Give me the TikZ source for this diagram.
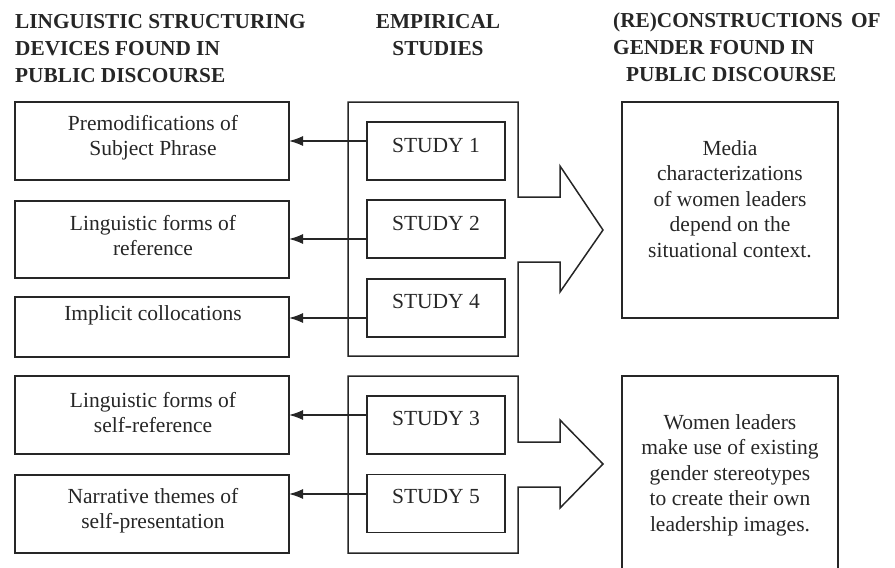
\documentclass[tikz,border=0pt]{standalone}
\usepackage{fontspec}
\setmainfont{Liberation Serif}
\usetikzlibrary{arrows.meta}
\begin{document}
\begin{tikzpicture}[x=1pt,y=-1pt,
  box/.style={draw=black!85, line width=1.4pt, inner sep=0pt, outer sep=0pt},
  lbox/.style={box, minimum width=274pt},
  sbox/.style={box, minimum width=138pt, minimum height=58pt},
  rbox/.style={box, minimum width=216pt},
  txt/.style={font=\fontsize{21.5}{25.5}\selectfont, align=center, inner sep=0pt, text=black!85},
  hdr/.style={font=\fontsize{21.3}{27}\selectfont\bfseries, inner sep=0pt, text=black!85},
  cont/.style={draw=black!85, line width=1.5pt, line join=miter},
  arr/.style={draw=black!85, line width=1.3pt, -{Latex[length=14pt,width=10pt]}}]
\useasboundingbox (0,0) rectangle (895,568);
% headers
\node[hdr, align=left, anchor=north west] (h1) at (15,14) {LINGUISTIC STRUCTURING\\DEVICES FOUND IN\\PUBLIC DISCOURSE};
\node[hdr, align=center, anchor=north] (h2) at (438,14) {EMPIRICAL\\STUDIES};
\node[hdr, align=left, anchor=north west] (h3) at (613,13) {(RE)CONSTRUCTIONS\hspace{3pt} OF\\GENDER FOUND IN\\\hspace*{13pt}PUBLIC DISCOURSE};
% containers with arrows
\draw[cont] (348,102) -- (518,102) -- (518,197) -- (560,197) -- (560,166) -- (603,230) -- (560,292) -- (560,262) -- (518,262) -- (518,356) -- (348,356) -- cycle;
\draw[cont] (348,376) -- (518,376) -- (518,442) -- (560,442) -- (560,420) -- (603,464) -- (560,508) -- (560,487) -- (518,487) -- (518,553) -- (348,553) -- cycle;
% left boxes
\node[lbox, minimum height=78pt] (l1) at (152,141) {};
\node[lbox, minimum height=77pt] (l2) at (152,239.5) {};
\node[lbox, minimum height=60pt] (l3) at (152,327) {};
\node[lbox, minimum height=78pt] (l4) at (152,415) {};
\node[lbox, minimum height=78pt] (l5) at (152,514) {};
\node[txt] (t1) at (153,137.5) {Premodifications of\\Subject Phrase};
\node[txt] (t2) at (153,235.5) {Linguistic forms of\\reference};
\node[txt] (t3) at (153,315) {Implicit collocations};
\node[txt] (t4) at (153,412.5) {Linguistic forms of\\self-reference};
\node[txt] (t5) at (153,510.5) {Narrative themes of\\self-presentation};
% study boxes
\node[sbox] (s1) at (436,151) {};
\node[sbox] (s2) at (436,229) {};
\node[sbox] (s4) at (436,308) {};
\node[sbox] (s3) at (436,425) {};
\node[sbox] (s5) at (436,503.5) {};
\node[txt, anchor=base] at (436,152) {STUDY 1};
\node[txt, anchor=base] at (436,230) {STUDY 2};
\node[txt, anchor=base] at (436,308) {STUDY 4};
\node[txt, anchor=base] at (436,425) {STUDY 3};
\node[txt, anchor=base] at (436,503) {STUDY 5};
% right boxes
\node[rbox, minimum height=216pt] (r1) at (730,210) {};
\node[rbox, minimum height=200pt] (r2) at (730,476) {};
\node[txt] (rt1) at (730,199) {Media\\characterizations\\of women leaders\\depend on the\\situational context.};
\node[txt] (rt2) at (730,475) {Women leaders\\make use of existing\\gender stereotypes\\to create their own\\leadership images.};
% connectors
\coordinate (a1) at ([yshift=10pt]s1.west);
\coordinate (a2) at ([yshift=-10pt]s2.west);
\coordinate (a4) at ([yshift=-10pt]s4.west);
\coordinate (a3) at ([yshift=10pt]s3.west);
\coordinate (a5) at ([yshift=9.5pt]s5.west);
\draw[arr] (a1) -- (a1 -| l1.east);
\draw[arr] (a2) -- (a2 -| l2.east);
\draw[arr] (a4) -- (a4 -| l3.east);
\draw[arr] (a3) -- (a3 -| l4.east);
\draw[arr] (a5) -- (a5 -| l5.east);
\end{tikzpicture}
\end{document}
